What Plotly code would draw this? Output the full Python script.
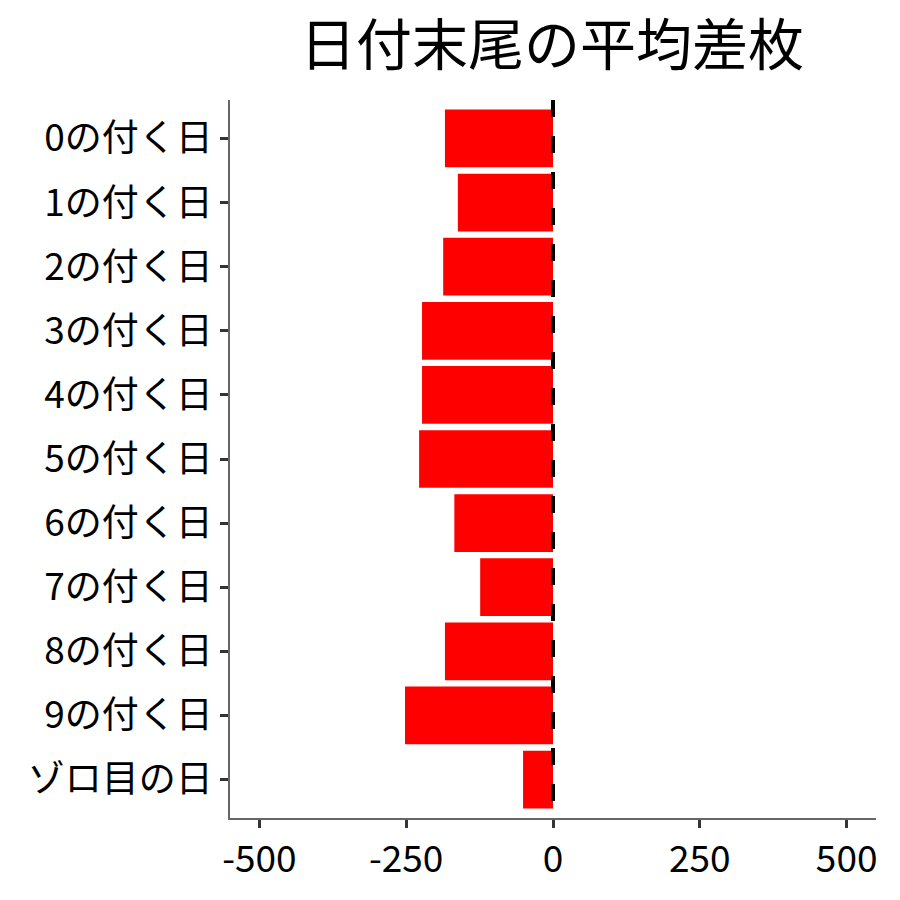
import plotly.graph_objects as go

categories = ['0の付く日', '1の付く日', '2の付く日', '3の付く日', '4の付く日',
              '5の付く日', '6の付く日', '7の付く日', '8の付く日', '9の付く日',
              'ゾロ目の日']
avg_diff = [-184, -162, -187, -223, -223, -228, -168, -124, -184, -252, -51]
x_ticks = [-500, -250, 0, 250, 500]
x_tick_labels = ['-500', '-250', '0', '250', '500']

font = 'Noto Sans CJK JP'

fig = go.Figure()
fig.add_trace(go.Bar(
    x=avg_diff,
    y=categories,
    orientation='h',
    marker_color='#FF0000',
    marker_line_width=0,
    width=0.9,
))

# dashed zero line
fig.add_shape(type='line', xref='x', yref='paper', x0=0, x1=0, y0=1, y1=0,
              line=dict(color='black', width=4, dash='17px,19px'))

fig.update_layout(
    title=dict(text='日付末尾の平均差枚', x=0.6044, xanchor='center',
               yref='container', y=0.958, yanchor='middle',
               font=dict(family=font, size=56, color='black')),
    font=dict(family=font, color='black'),
    xaxis=dict(
        range=[-550, 550],
        tickvals=x_ticks, ticktext=x_tick_labels,
        ticks='outside', ticklen=8, tickwidth=3, tickcolor='#333333',
        showline=True, linecolor='#666666', linewidth=1.5,
        showgrid=False, zeroline=False,
        tickfont=dict(family=font, size=37, color='black'),
    ),
    yaxis=dict(
        categoryorder='array', categoryarray=categories,
        range=[10.6, -0.6],
        ticks='outside', ticklen=8, tickwidth=3, tickcolor='#333333',
        showline=True, linecolor='#666666', linewidth=1.5,
        showgrid=False, zeroline=False,
        tickfont=dict(family=font, size=37, color='black'),
    ),
    width=900, height=900,
    margin=dict(l=222, r=32, t=92, b=90),
    paper_bgcolor='white',
    plot_bgcolor='white',
    showlegend=False,
)

fig.write_html('out.html')
